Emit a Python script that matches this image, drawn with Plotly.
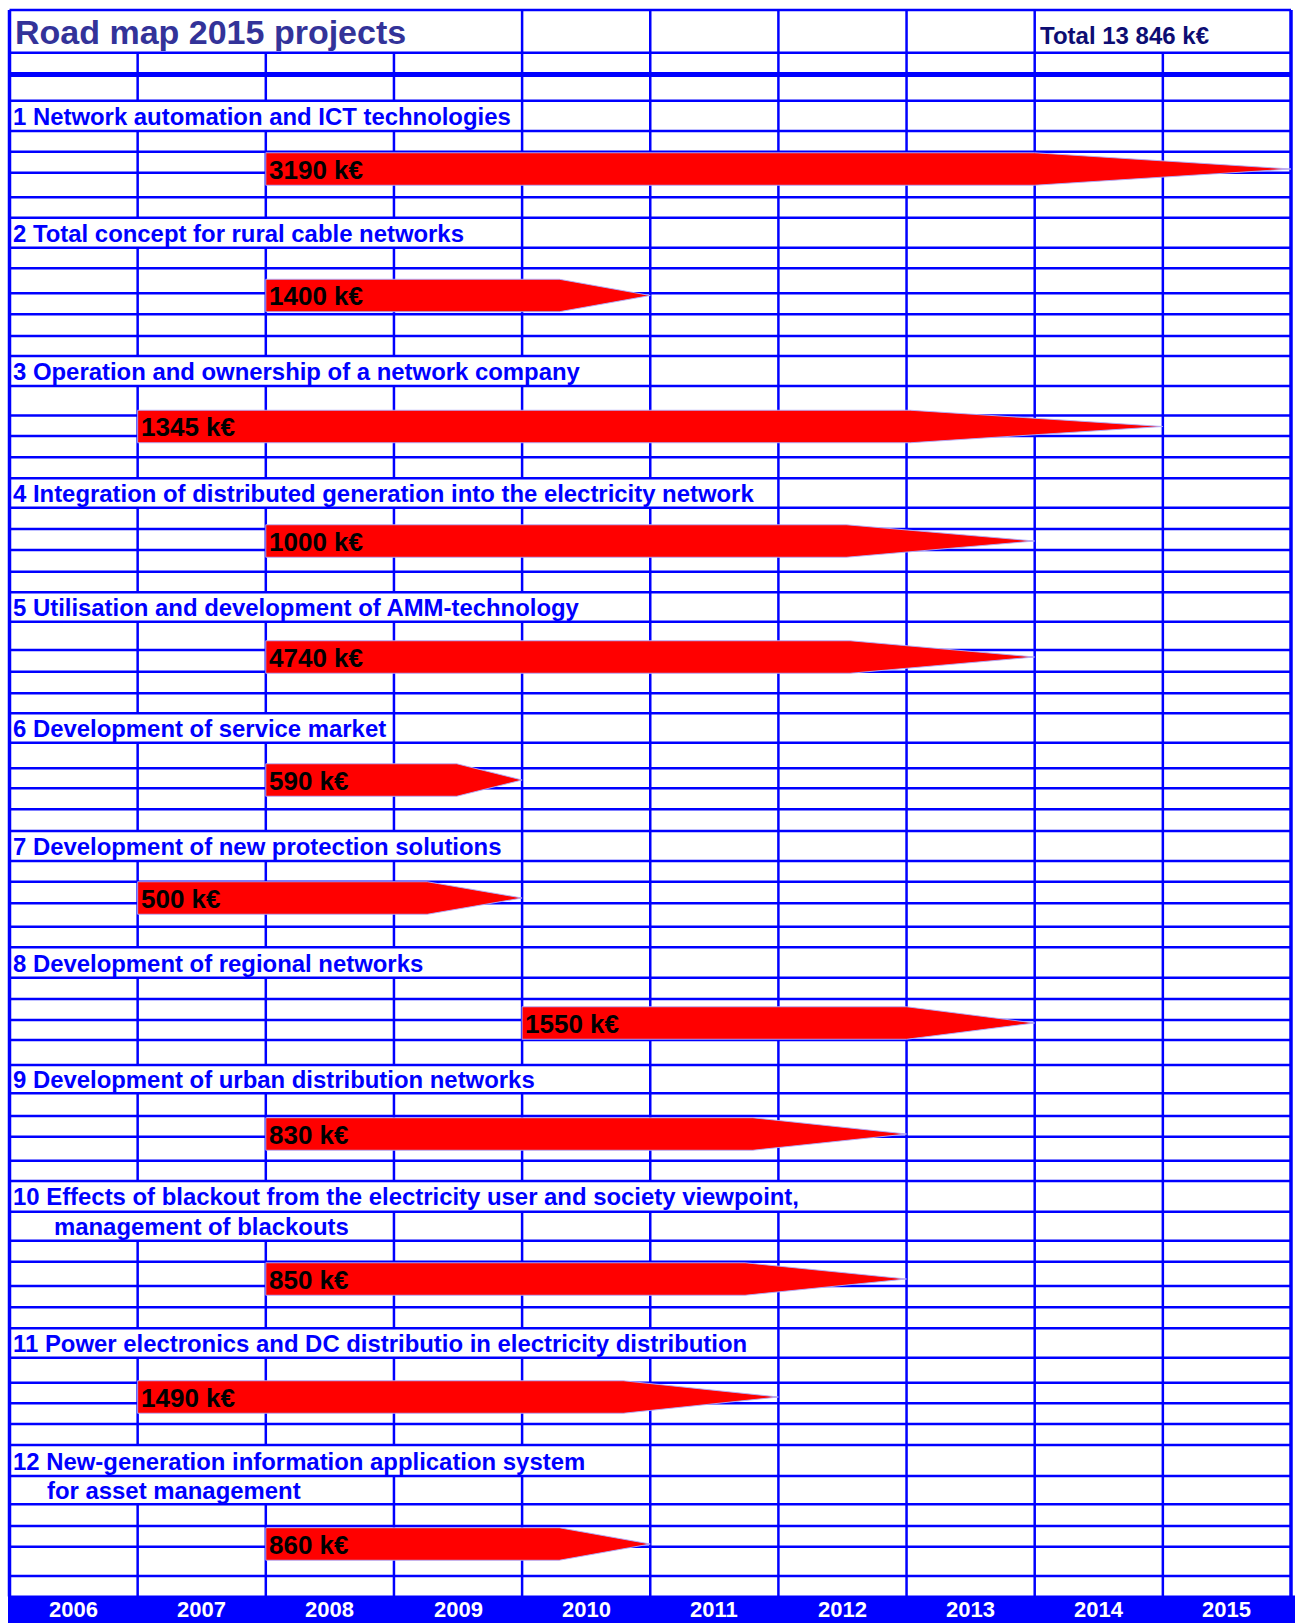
import plotly.graph_objects as go

# ---------------- data ----------------
years = list(range(2006, 2016))
projects = [
    "1 Network automation and ICT technologies",
    "2 Total concept for rural cable networks",
    "3 Operation and ownership of a network company",
    "4 Integration of distributed generation into the electricity network",
    "5 Utilisation and development of AMM-technology",
    "6 Development of service market",
    "7 Development of new protection solutions",
    "8 Development of regional networks",
    "9 Development of urban distribution networks",
    "10 Effects of blackout from the electricity user and society viewpoint,\nmanagement of blackouts",
    "11 Power electronics and DC distributio in electricity distribution",
    "12 New-generation information application system\nfor asset management",
]
budget_keur = [3190, 1400, 1345, 1000, 4740, 590, 500, 1550, 830, 850, 1490, 860]
start_year = [2008, 2008, 2007, 2008, 2008, 2008, 2007, 2010, 2008, 2008, 2007, 2008]
end_year = [2015, 2010, 2014, 2013, 2013, 2009, 2009, 2013, 2012, 2012, 2011, 2010]
title_text = "Road map 2015 projects"
total_keur = 13846

# ---------------- layout / style ----------------
W, H = 1295, 1623
PX_LEFT, PX_RIGHT = 9.5, 1291.0
PX_PER_YEAR = (PX_RIGHT - PX_LEFT) / len(years)
X0 = years[0] - PX_LEFT / PX_PER_YEAR
X1 = X0 + W / PX_PER_YEAR


def px2x(px):
    return X0 + px / PX_PER_YEAR


BLUE = "#0000FF"
FONT = "Liberation Sans, Arial"
TOP, TITLE_BOTTOM, THICK_Y, BAND_TOP = 10.0, 52.7, 74.5, 1596.5
row_lines = [100.7,
             131, 151.7, 172.7, 197.3, 217.7,
             247.7, 268.3, 293.3, 314.3, 336, 356,
             386, 415.5, 436, 457.3, 478.3,
             507.7, 529, 550, 571.7, 592.3,
             621.7, 650, 671.7, 693.3, 713.3,
             742.7, 768.3, 788.3, 809.3, 831,
             861, 881.7, 903.3, 926.7, 947.3,
             977.7, 999, 1020, 1040, 1065,
             1093.3, 1116, 1136.7, 1160.7, 1181,
             1211.7, 1240.7, 1261.7, 1286, 1307.3, 1328.3,
             1357.7, 1382.7, 1403.3, 1424, 1445,
             1476, 1504.3, 1526, 1546.7, 1576]
# (top, bottom, merged columns) for each text line of each project label
label_rows = [
    [(100.7, 131, 4)],
    [(217.7, 247.7, 4)],
    [(356, 386, 5)],
    [(478.3, 507.7, 6)],
    [(592.3, 621.7, 5)],
    [(713.3, 742.7, 3)],
    [(831, 861, 4)],
    [(947.3, 977.7, 4)],
    [(1065, 1093.3, 5)],
    [(1181, 1211.7, 7), (1211.7, 1240.7, 3)],
    [(1328.3, 1357.7, 6)],
    [(1445, 1476, 5), (1476, 1504.3, 3)],
]
first_line_x_px = 10.5
second_line_x_px = {9: 51.5, 11: 44.5}
arrow_y = [169, 295.5, 426.5, 541, 657, 780, 898, 1023, 1134, 1279, 1397, 1544]
head_len = [2.0, 0.71, 1.97, 1.47, 1.44, 0.51, 0.74, 1.0, 1.2, 1.26, 1.21, 0.71]
ARROW_H = 32.5

fig = go.Figure()

# horizontal grid lines
hx, hy = [], []
for yv in [TOP, TITLE_BOTTOM] + row_lines:
    hx += [px2x(PX_LEFT), px2x(PX_RIGHT), None]
    hy += [yv, yv, None]
fig.add_trace(go.Scatter(x=hx, y=hy, mode="lines", line=dict(color=BLUE, width=2.5),
                         hoverinfo="skip", showlegend=False))
# thick double line under header
fig.add_trace(go.Scatter(x=[px2x(PX_LEFT), px2x(PX_RIGHT)], y=[THICK_Y, THICK_Y], mode="lines",
                         line=dict(color=BLUE, width=5), hoverinfo="skip", showlegend=False))

# vertical grid lines (broken where cells are merged)
vx, vy = [], []
for k in range(1, len(years)):
    gaps = []
    if k < 4 or k == 9:
        gaps.append((TOP, TITLE_BOTTOM))
    for rows in label_rows:
        for (t, b, span) in rows:
            if k < span:
                gaps.append((t, b))
    gaps.sort()
    cur = TOP
    xk = years[0] + k
    for (t, b) in gaps:
        if t > cur:
            vx += [xk, xk, None]
            vy += [cur, t, None]
        cur = max(cur, b)
    if cur < BAND_TOP:
        vx += [xk, xk, None]
        vy += [cur, BAND_TOP, None]
fig.add_trace(go.Scatter(x=vx, y=vy, mode="lines", line=dict(color=BLUE, width=2.5),
                         hoverinfo="skip", showlegend=False))
# outer borders
fig.add_trace(go.Scatter(x=[years[0], years[0], None, years[-1] + 1, years[-1] + 1],
                         y=[TOP, BAND_TOP, None, TOP, BAND_TOP], mode="lines",
                         line=dict(color=BLUE, width=3.5), hoverinfo="skip", showlegend=False))

# bottom band
fig.add_shape(type="rect", xref="x", yref="y", x0=px2x(8), x1=X1, y0=BAND_TOP - 1, y1=H,
              fillcolor=BLUE, line=dict(width=0), layer="above")

annotations = []
# arrows
for i in range(len(projects)):
    xs = start_year[i]
    xt = end_year[i] + 1
    xb = xt - head_len[i]
    yc = arrow_y[i]
    h2 = ARROW_H / 2
    fig.add_trace(go.Scatter(x=[xs, xb, xt, xb, xs, xs], y=[yc - h2, yc - h2, yc, yc + h2, yc + h2, yc - h2],
                             mode="lines", fill="toself", fillcolor="#FF0000",
                             line=dict(color="rgba(175,175,255,0.9)", width=1),
                             hoverinfo="skip", showlegend=False))
    annotations.append(dict(x=xs + 1.0 / PX_PER_YEAR, y=yc + 0.5, xref="x", yref="y",
                            text="<b>%d k€</b>" % budget_keur[i], showarrow=False,
                            xanchor="left", yanchor="middle",
                            font=dict(family=FONT, size=26, color="#000000")))

# project labels
for i, name in enumerate(projects):
    lines = name.split("\n")
    for j, ln in enumerate(lines):
        t, b, _ = label_rows[i][j]
        xpx = first_line_x_px if j == 0 else second_line_x_px[i]
        annotations.append(dict(x=px2x(xpx), y=(t + b) / 2 + 0.5, xref="x", yref="y",
                                text="<b>%s</b>" % ln, showarrow=False,
                                xanchor="left", yanchor="middle",
                                font=dict(family=FONT, size=23.9, color=BLUE)))

# title and total
annotations.append(dict(x=px2x(13), y=(TOP + TITLE_BOTTOM) / 2 + 1, xref="x", yref="y",
                        text="<b>%s</b>" % title_text, showarrow=False, xanchor="left", yanchor="middle",
                        font=dict(family=FONT, size=34, color="#333399")))
total_str = "{:,}".format(total_keur).replace(",", " ")
annotations.append(dict(x=px2x(1038), y=(TOP + TITLE_BOTTOM) / 2 + 4, xref="x", yref="y",
                        text="<b>Total %s k€</b>" % total_str, showarrow=False, xanchor="left",
                        yanchor="middle",
                        font=dict(family=FONT, size=24, color="#0d0d73")))

# year labels
for yr in years:
    annotations.append(dict(x=yr + 0.5, y=1609.5, xref="x", yref="y", text="<b>%d</b>" % yr,
                            showarrow=False, xanchor="center", yanchor="middle",
                            font=dict(family=FONT, size=22, color="#FFFFFF")))

fig.update_layout(
    width=W, height=H, margin=dict(l=0, r=0, t=0, b=0),
    paper_bgcolor="white", plot_bgcolor="white",
    xaxis=dict(range=[X0, X1], visible=False, fixedrange=True),
    yaxis=dict(range=[H, 0], visible=False, fixedrange=True),
    annotations=annotations, showlegend=False,
)
fig.write_html("out.html")
